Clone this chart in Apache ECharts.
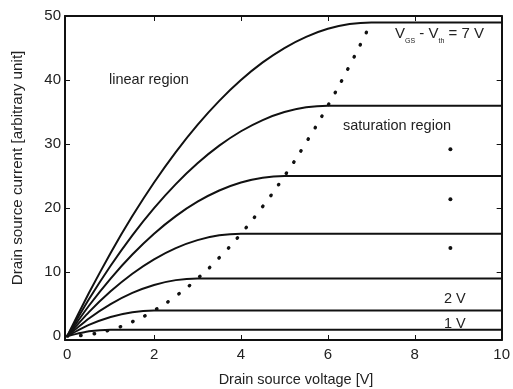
<!DOCTYPE html>
<html>
<head>
<meta charset="utf-8">
<script src="https://cdn.jsdelivr.net/npm/echarts@6/dist/echarts.min.js"></script>
<style>
  html, body { margin: 0; padding: 0; background: #fff; }
  #chart { width: 513px; height: 389px; }
</style>
</head>
<body>
<div id="chart"></div>
<script>
// drain voltage steps (V) used for the linear-region part of each curve
const vSteps = [0, 0.5, 1, 1.5, 2, 2.5, 3, 3.5, 4, 4.5, 5, 5.5, 6, 6.5, 7]

// current at vSteps, up to the saturation point
const curve1V = [0, 0.75, 1]
const curve2V = [0, 1.75, 3, 3.75, 4]
const curve3V = [0, 2.75, 5, 6.75, 8, 8.75, 9]
const curve4V = [0, 3.75, 7, 9.75, 12, 13.75, 15, 15.75, 16]
const curve5V = [0, 4.75, 9, 12.75, 16, 18.75, 21, 22.75, 24, 24.75, 25]
const curve6V = [0, 5.75, 11, 15.75, 20, 23.75, 27, 29.75, 32, 33.75, 35, 35.75, 36]
const curve7V = [0, 6.75, 13, 18.75, 24, 28.75, 33, 36.75, 40, 42.75, 45, 46.75, 48, 48.75, 49]

// boundary between linear and saturation region (dotted)
const boundary = [0, 0.25, 1, 2.25, 4, 6.25, 9, 12.25, 16, 20.25, 25, 30.25, 36, 42.25, 49]

// the three "..." dots
const dotsX = [8.82, 8.82, 8.82]
const dotsY = [29.2, 21.4, 13.75]

const xTicks = [0, 2, 4, 6, 8, 10]
const yTicks = [0, 10, 20, 30, 40, 50]
const vEnd = 10

const chart = echarts.init(document.getElementById("chart"))

const curves = [curve1V, curve2V, curve3V, curve4V, curve5V, curve6V, curve7V]
const black = "#111"
const font = "Liberation Sans"

const curveSeries = curves.map((c) => {
  const pts = c.map((i, idx) => [vSteps[idx], i])
  pts.push([vEnd, c[c.length - 1]])
  return {
    type: "line",
    data: pts,
    showSymbol: false,
    smooth: 0.15,
    lineStyle: { color: black, width: 2 },
    z: 3,
  }
})

const axisCommon = {
  axisLine: { show: true, onZero: false, lineStyle: { color: black, width: 2 } },
  splitLine: { show: false },
}

const label = (text, x, y, size) => ({
  type: "text",
  x,
  y,
  style: { text, fontFamily: font, fontSize: size || 14.5, fill: "#222", verticalAlign: "middle" },
})

chart.setOption({
  animation: false,
  grid: { left: 65, right: 6, top: 16, bottom: 49 },
  xAxis: [
    {
      type: "value",
      min: -0.05,
      max: 10,
      ...axisCommon,
      axisTick: { show: true, inside: true, length: 5, customValues: [2, 4, 6, 8], lineStyle: { color: black } },
      axisLabel: { customValues: xTicks, fontFamily: font, fontSize: 15, color: "#222", margin: 7 },
    },
    {
      type: "value",
      position: "top",
      min: -0.05,
      max: 10,
      ...axisCommon,
      axisTick: { show: true, inside: true, length: 5, customValues: [2, 4, 6, 8], lineStyle: { color: black } },
      axisLabel: { show: false },
    },
  ],
  yAxis: [
    {
      type: "value",
      min: -0.6,
      max: 50,
      ...axisCommon,
      axisTick: { show: true, inside: true, length: 5, customValues: [10, 20, 30, 40], lineStyle: { color: black } },
      axisLabel: { customValues: yTicks, fontFamily: font, fontSize: 15, color: "#222", margin: 4 },
    },
    {
      type: "value",
      position: "right",
      min: -0.6,
      max: 50,
      ...axisCommon,
      axisTick: { show: true, inside: true, length: 5, customValues: [10, 20, 30, 40], lineStyle: { color: black } },
      axisLabel: { show: false },
    },
  ],
  series: [
    ...curveSeries,
    {
      type: "line",
      data: boundary.map((i, idx) => [vSteps[idx], i]),
      showSymbol: false,
      smooth: true,
      lineStyle: { color: black, width: 3.4, type: [0.5, 13], cap: "round" },
      z: 2,
    },
    {
      type: "scatter",
      data: dotsX.map((x, idx) => [x, dotsY[idx]]),
      symbolSize: 4,
      itemStyle: { color: black, opacity: 1 },
    },
  ],
  graphic: [
    {
      type: "text",
      x: 296,
      y: 380,
      style: { text: "Drain source voltage [V]", fontFamily: font, fontSize: 14.5, fill: "#222", align: "center", verticalAlign: "middle" },
    },
    {
      type: "text",
      x: 18,
      y: 168,
      rotation: Math.PI / 2,
      style: { text: "Drain source current [arbitrary unit]", fontFamily: font, fontSize: 15.2, fill: "#222", align: "center", verticalAlign: "middle" },
    },
    label("linear region", 109, 80),
    label("saturation region", 343, 126),
    label("2 V", 444, 299),
    label("1 V", 444, 324),
    {
      type: "text",
      x: 395,
      y: 25,
      style: {
        text: "{v|V}{s|GS}{v| - V}{s|th}{v| = 7 V}",
        rich: {
          v: { fontFamily: font, fontSize: 15, fill: "#222", verticalAlign: "bottom", lineHeight: 16 },
          s: { fontFamily: font, fontSize: 7, fill: "#222", verticalAlign: "bottom", lineHeight: 16, padding: [0, 0, -4, 0] },
        },
      },
    },
  ],
})
</script>
</body>
</html>
